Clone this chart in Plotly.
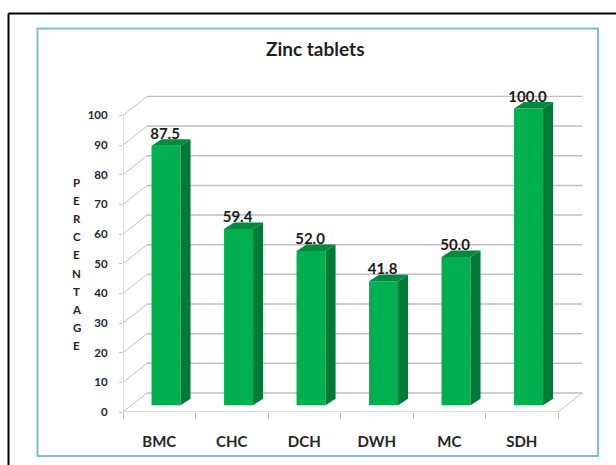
import plotly.graph_objects as go

categories = ["BMC", "CHC", "DCH", "DWH", "MC", "SDH"]
values = [87.5, 59.4, 52.0, 41.8, 50.0, 100.0]
value_labels = ["87.5", "59.4", "52.0", "41.8", "50.0", "100.0"]
y_ticks = [0, 10, 20, 30, 40, 50, 60, 70, 80, 90, 100]
y_title_letters = list("PERCENTAGE")
title = "Zinc tablets"

W, H = 616, 465
FONT = "Lato"
# plot area in px and axis scales
L, R, T, B = 123, 595, 90, 412
PX_X = 72.5   # px per category
PX_Y = 2.966  # px per percent
x_lo = -0.5
x_hi = x_lo + (R - L) / PX_X
y_hi = (B - T) / PX_Y

# depth (oblique projection) offsets in data units
wall_dx, wall_dy = 24 / PX_X, 19 / PX_Y
bar_dx, bar_dy = 10 / PX_X, 6.5 / PX_Y
bar_shift_x, bar_base = 6.8 / PX_X, 6.8 / PX_Y
bar_w = 29 / PX_X
label_dy = 10.5 / PX_Y

GRID = "#bfbfbf"
FRONT, SIDE, TOP = "#00b04f", "#007a36", "#008a3d"
TEXT = "#262626"


def px(x):
    return (x - L) / (R - L)


def py(y):
    return (B - y) / (B - T)


centers = [i + bar_shift_x for i in range(len(categories))]

side_x, side_y, top_x, top_y = [], [], [], []
for c, v in zip(centers, values):
    x0, x1 = c - bar_w / 2, c + bar_w / 2
    y0, y1 = bar_base, bar_base + v
    side_x += [x1, x1 + bar_dx, x1 + bar_dx, x1, x1, None]
    side_y += [y0, y0 + bar_dy, y1 + bar_dy, y1, y0, None]
    top_x += [x0, x1, x1 + bar_dx, x0 + bar_dx, x0, None]
    top_y += [y1, y1, y1 + bar_dy, y1 + bar_dy, y1, None]

fig = go.Figure()
fig.add_trace(go.Bar(
    x=centers, y=values, base=bar_base, width=bar_w,
    marker=dict(color=FRONT, line=dict(width=0)), hoverinfo="skip",
))
fig.add_trace(go.Scatter(x=side_x, y=side_y, mode="lines", fill="toself",
                         fillcolor=SIDE, line=dict(width=0), hoverinfo="skip"))
fig.add_trace(go.Scatter(x=top_x, y=top_y, mode="lines", fill="toself",
                         fillcolor=TOP, line=dict(width=0), hoverinfo="skip"))
fig.add_trace(go.Scatter(
    x=[c - 1 / PX_X for c in centers], y=[bar_base + v + label_dy for v in values],
    mode="text", text=value_labels, textposition="middle center",
    textfont=dict(family=FONT, size=15, color="#1a1a1a", weight="bold"),
    hoverinfo="skip", cliponaxis=False,
))

shapes = []
# back-wall gridlines and left-wall diagonals
for t in y_ticks:
    lw = 1.5 if t != 100 else 1.2
    shapes.append(dict(type="line", xref="x", yref="y", layer="below",
                       x0=x_lo + wall_dx, x1=5.5 + wall_dx,
                       y0=t + wall_dy, y1=t + wall_dy,
                       line=dict(color=GRID, width=lw)))
    shapes.append(dict(type="line", xref="x", yref="y", layer="below",
                       x0=x_lo, x1=x_lo + wall_dx, y0=t, y1=t + wall_dy,
                       line=dict(color=GRID, width=1)))
# floor right edge
shapes.append(dict(type="line", xref="x", yref="y", layer="below",
                   x0=5.5, x1=5.5 + wall_dx, y0=0, y1=wall_dy,
                   line=dict(color=GRID, width=1)))
# front floor edge
shapes.append(dict(type="line", xref="x", yref="y", layer="below",
                   x0=x_lo, x1=5.5, y0=0, y1=0,
                   line=dict(color=GRID, width=1.2)))
# y axis line
shapes.append(dict(type="line", xref="x", yref="y", layer="below",
                   x0=x_lo, x1=x_lo, y0=0, y1=100,
                   line=dict(color=GRID, width=1)))
# teal chart frame
shapes.append(dict(type="rect", xref="paper", yref="paper", layer="below",
                   x0=px(37.5), x1=px(598), y0=py(456), y1=py(28.5),
                   line=dict(color="#7fbfd0", width=2), fillcolor="rgba(0,0,0,0)"))
# black page frame
shapes.append(dict(type="line", xref="paper", yref="paper", layer="below",
                   x0=px(8.5), x1=px(616), y0=py(13.5), y1=py(13.5),
                   line=dict(color="#000000", width=2)))
shapes.append(dict(type="line", xref="paper", yref="paper", layer="below",
                   x0=px(8.5), x1=px(8.5), y0=py(13.5), y1=py(465),
                   line=dict(color="#000000", width=2)))

annotations = [dict(
    text=title, xref="paper", yref="paper", x=px(315.5), y=py(48.5),
    xanchor="center", yanchor="middle", showarrow=False,
    font=dict(family=FONT, size=19, color="#1f1f1f", weight="bold"),
)]
for i, ch in enumerate(y_title_letters):
    annotations.append(dict(
        text=ch, xref="paper", yref="paper", x=px(76.5), y=py(182.5 + i * 18.1),
        xanchor="center", yanchor="middle", showarrow=False,
        font=dict(family=FONT, size=11.5, color=TEXT, weight="bold"),
    ))

fig.update_layout(
    width=W, height=H, autosize=False,
    margin=dict(l=L, r=W - R, t=T, b=H - B, pad=0),
    paper_bgcolor="#ffffff", plot_bgcolor="rgba(0,0,0,0)",
    showlegend=False, shapes=shapes, annotations=annotations,
    xaxis=dict(
        range=[x_lo, x_hi], tickmode="array",
        tickvals=list(range(len(categories))), ticktext=categories,
        ticks="", showgrid=False, zeroline=False, showline=False,
        ticklabelstandoff=19,
        tickfont=dict(family=FONT, size=15, color=TEXT, weight="bold"),
        minor=dict(tickmode="array", tickvals=[i - 0.5 for i in range(len(categories) + 1)],
                   ticks="outside", ticklen=6, tickwidth=1, tickcolor=GRID, showgrid=False),
    ),
    yaxis=dict(
        range=[0, y_hi], tickmode="array", tickvals=y_ticks,
        ticktext=[str(t) for t in y_ticks],
        ticks="outside", ticklen=3, tickwidth=1, tickcolor=GRID,
        showgrid=False, zeroline=False, showline=False,
        ticklabelstandoff=9,
        tickfont=dict(family=FONT, size=11.5, color=TEXT, weight="bold"),
    ),
)

# the page's default body margin would push the fixed-size figure off by 8 px
fig.write_html("out.html", config=dict(displayModeBar=False),
               post_script="document.body.style.margin='0';")
